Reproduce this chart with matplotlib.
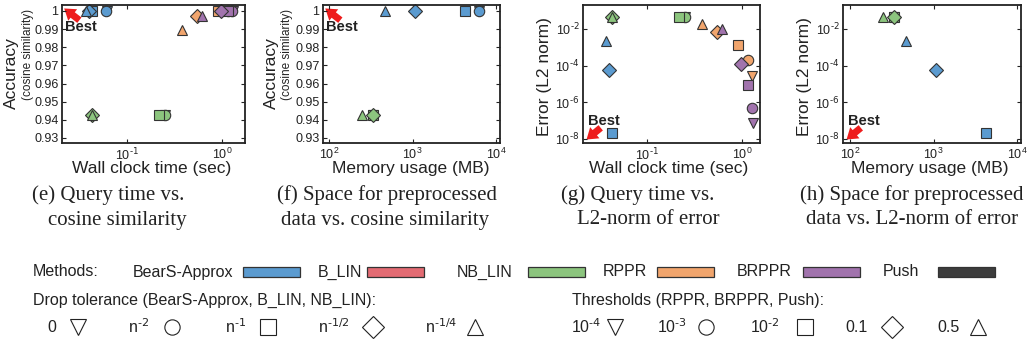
import numpy as np
import matplotlib
matplotlib.use('Agg')
import matplotlib.pyplot as plt
from matplotlib.patches import Rectangle, FancyArrowPatch
from matplotlib.lines import Line2D
from matplotlib.ticker import FixedLocator, FuncFormatter, NullLocator

plt.rcParams['font.family'] = ['Liberation Sans', 'DejaVu Sans']
plt.rcParams['mathtext.default'] = 'regular'

W, H = 1032, 345

# marker per setting: drop tol 0 / thr 1e-4, n^-2 / 1e-3, n^-1 / 1e-2, n^-1/2 / 0.1, n^-1/4 / 0.5
markers = ['v', 'o', 's', 'D', '^']
drop_labels = ['0', r'n$^{\text{-2}}$', r'n$^{\text{-1}}$', r'n$^{\text{-1/2}}$', r'n$^{\text{-1/4}}$']
thr_labels = [r'10$^{\text{-4}}$', r'10$^{\text{-3}}$', r'10$^{\text{-2}}$', '0.1', '0.5']

methods = ['BearS-Approx', 'B_LIN', 'NB_LIN', 'RPPR', 'BRPPR', 'Push']
colors = ['#5b9bd0', '#e36b73', '#8cc57e', '#f1a56d', '#a173ad', '#3d3d3d']

# BearS-Approx
bears_time = [0.062, 0.060, 0.043, 0.040, 0.037]
bears_acc = [1.0, 1.0, 1.0, 1.0, 1.0]
bears_mem = [6300, 6300, 4250, 1080, 470]
bears_err = [np.nan, np.nan, 2.0e-8, 6.0e-5, 2.2e-3]

# NB_LIN
nblin_time = [0.25, 0.25, 0.215, 0.043, 0.043]
nblin_acc = [0.9424, 0.9424, 0.9424, 0.9424, 0.9424]
nblin_mem = [336, 336, 336, 336, 248]
nblin_err = [0.045, 0.045, 0.045, 0.045, 0.045]

# RPPR (no preprocessing -> no memory)
rppr_time = [1.27, 1.16, 0.90, 0.545, 0.38]
rppr_acc = [1.0, 1.0, 1.0, 0.9974, 0.9895]
rppr_err = [2.7e-5, 2.0e-4, 1.3e-3, 7.0e-3, 1.9e-2]

# BRPPR
brppr_time = [1.30, 1.27, 1.16, 0.98, 0.61]
brppr_acc = [1.0, 1.0, 1.0, 1.0, 0.9971]
brppr_err = [7.0e-8, 4.8e-7, 8.7e-6, 1.2e-4, 1.0e-2]

acc_ticks = [0.93, 0.94, 0.95, 0.96, 0.97, 0.98, 0.99, 1.0]
err_ticks = [1e-8, 1e-6, 1e-4, 1e-2]

fig = plt.figure(figsize=(W / 100, H / 100), dpi=100)


def px_axes(l, r, t=5, b=143):
    return fig.add_axes([l / W, 1 - b / H, (r - l) / W, (b - t) / H])


def style(ax):
    ax.tick_params(direction='in', top=True, right=True, length=3, width=0.8,
                   labelsize=9, pad=2.5, colors='#222222')
    ax.tick_params(which='minor', length=0)
    for s in ax.spines.values():
        s.set_linewidth(1.3)
        s.set_color('#222222')


def pow_label(v, p):
    e = round(np.log10(v))
    if e < 0:
        return r'$10^{\text{-%d}}$' % -e
    return r'$10^{%d}$' % e


pow_fmt = FuncFormatter(pow_label)


def scatter_set(ax, xs, ys, color):
    for x, y, m in zip(xs, ys, markers):
        ax.plot(x, y, marker=m, ms=7.5, mfc=color, mec='#333333', mew=0.8,
                ls='none', clip_on=False)


def best(ax, head, tail, txt):
    ax.add_patch(FancyArrowPatch(tail, head, transform=ax.transAxes,
                                 arrowstyle='simple,head_width=0.95,head_length=0.7,tail_width=0.45',
                                 mutation_scale=11, color='#ee1c1c', lw=0,
                                 shrinkA=0, shrinkB=0, clip_on=False))
    ax.text(txt[0], txt[1], 'Best', transform=ax.transAxes, ha='left', va='center',
            fontsize=10.5, fontweight='bold', color='#222222')


# (e) query time vs cosine similarity
ax = px_axes(62, 245)
scatter_set(ax, bears_time, bears_acc, colors[0])
scatter_set(ax, nblin_time, nblin_acc, colors[2])
scatter_set(ax, rppr_time, rppr_acc, colors[3])
scatter_set(ax, brppr_time, brppr_acc, colors[4])
ax.set_xscale('log')
ax.set_xlim(0.0207, 1.75)
ax.set_ylim(0.9272, 1.0033)
ax.xaxis.set_major_locator(FixedLocator([0.1, 1]))
ax.xaxis.set_major_formatter(pow_fmt)
ax.xaxis.set_minor_locator(NullLocator())
ax.yaxis.set_major_locator(FixedLocator(acc_ticks))
ax.set_yticklabels(['%g' % v for v in acc_ticks])
style(ax)
best(ax, (0.012, 0.975), (0.095, 0.89), (0.016, 0.837))

# (f) memory vs cosine similarity
ax = px_axes(323, 500)
scatter_set(ax, bears_mem, bears_acc, colors[0])
scatter_set(ax, nblin_mem, nblin_acc, colors[2])
ax.set_xscale('log')
ax.set_xlim(84, 11200)
ax.set_ylim(0.9272, 1.0033)
ax.xaxis.set_major_locator(FixedLocator([1e2, 1e3, 1e4]))
ax.xaxis.set_major_formatter(pow_fmt)
ax.xaxis.set_minor_locator(NullLocator())
ax.yaxis.set_major_locator(FixedLocator(acc_ticks))
ax.set_yticklabels(['%g' % v for v in acc_ticks])
style(ax)
best(ax, (0.013, 0.975), (0.098, 0.89), (0.017, 0.84))

# (g) query time vs L2 error
ax = px_axes(583, 760)
scatter_set(ax, bears_time, bears_err, colors[0])
scatter_set(ax, nblin_time, nblin_err, colors[2])
scatter_set(ax, rppr_time, rppr_err, colors[3])
scatter_set(ax, brppr_time, brppr_err, colors[4])
ax.set_xscale('log')
ax.set_yscale('log')
ax.set_xlim(0.0212, 1.55)
ax.set_ylim(6e-9, 0.2)
ax.xaxis.set_major_locator(FixedLocator([0.1, 1]))
ax.xaxis.set_major_formatter(pow_fmt)
ax.xaxis.set_minor_locator(NullLocator())
ax.yaxis.set_major_locator(FixedLocator(err_ticks))
ax.yaxis.set_major_formatter(pow_fmt)
ax.yaxis.set_minor_locator(NullLocator())
style(ax)
best(ax, (0.02, 0.025), (0.1, 0.11), (0.028, 0.163))

# (h) memory vs L2 error
ax = px_axes(843, 1021)
scatter_set(ax, bears_mem, bears_err, colors[0])
scatter_set(ax, nblin_mem, nblin_err, colors[2])
ax.set_xscale('log')
ax.set_yscale('log')
ax.set_xlim(82, 11170)
ax.set_ylim(6e-9, 0.2)
ax.xaxis.set_major_locator(FixedLocator([1e2, 1e3, 1e4]))
ax.xaxis.set_major_formatter(pow_fmt)
ax.xaxis.set_minor_locator(NullLocator())
ax.yaxis.set_major_locator(FixedLocator(err_ticks))
ax.yaxis.set_major_formatter(pow_fmt)
ax.yaxis.set_minor_locator(NullLocator())
style(ax)
best(ax, (0.02, 0.025), (0.1, 0.11), (0.028, 0.163))


def ftext(x, y, s, **kw):
    return fig.text(x / W, 1 - y / H, s, **kw)


# axis labels
dark = '#222222'
for cx, lbl in [(152, 'Wall clock time (sec)'), (411, 'Memory usage (MB)'),
                (669, 'Wall clock time (sec)'), (930, 'Memory usage (MB)')]:
    ftext(cx, 169, lbl, ha='center', va='center', fontsize=12.5, color=dark)
for cx in (11.5, 271):
    ftext(cx, 73.5, 'Accuracy', ha='center', va='center', rotation=90, fontsize=12.5, color=dark)
for cx in (27.5, 287):
    ftext(cx, 54, '(cosine similarity)', ha='center', va='center', rotation=90, fontsize=8.5, color=dark)
for cx in (545, 805):
    ftext(cx, 77, 'Error (L2 norm)', ha='center', va='center', rotation=90, fontsize=12.5, color=dark)

# sub-captions
serif = ['Liberation Serif', 'DejaVu Serif']
captions = [(108, 117, '(e) Query time vs.', 'cosine similarity'),
            (387, 385, '(f) Space for preprocessed', 'data vs. cosine similarity'),
            (638, 648, '(g) Query time vs.', 'L2-norm of error'),
            (912, 912, '(h) Space for preprocessed', 'data vs. L2-norm of error')]
for c1, c2, l1, l2 in captions:
    ftext(c1, 195, l1, ha='center', va='center', fontsize=15, family=serif, color=dark)
    ftext(c2, 220, l2, ha='center', va='center', fontsize=15, family=serif, color=dark)

# legend: methods
leg_fs = 11.5
row1, row2, row3 = 272, 300, 327
ftext(33, row1, 'Methods:', ha='left', va='center', fontsize=leg_fs, color=dark)
label_x = [133, 318, 457, 603, 737, 883]
patch_x = [243, 367, 528, 657, 803, 938]
for name, c, lx, pxx in zip(methods, colors, label_x, patch_x):
    ftext(lx, row1, name, ha='left', va='center', fontsize=leg_fs, color=dark)
    fig.add_artist(Rectangle((pxx / W, 1 - (row1 + 5) / H), 57 / W, 10 / H,
                             transform=fig.transFigure, facecolor=c,
                             edgecolor='#333333', lw=0.9))

# legend: marker settings
ftext(33, row2, 'Drop tolerance (BearS-Approx, B_LIN, NB_LIN):', ha='left', va='center',
      fontsize=leg_fs, color=dark)
ftext(572, row2, 'Thresholds (RPPR, BRPPR, Push):', ha='left', va='center',
      fontsize=leg_fs, color=dark)
drop_tx = [47, 128, 225, 318, 425]
drop_mx = [78, 172, 268, 373, 475]
thr_tx = [571, 657, 750, 845, 937]
thr_mx = [615, 706, 805, 892, 978]
for labels, tx, mx in [(drop_labels, drop_tx, drop_mx), (thr_labels, thr_tx, thr_mx)]:
    for lab, t, mk, m in zip(labels, tx, mx, markers):
        ftext(t, row3, lab, ha='left', va='center', fontsize=leg_fs, color=dark)
        fig.add_artist(Line2D([mk / W], [1 - row3 / H], marker=m, ms=11, mfc='none',
                              mec='#222222', mew=0.8, ls='none', transform=fig.transFigure))

fig.savefig('out.png', dpi=100)
